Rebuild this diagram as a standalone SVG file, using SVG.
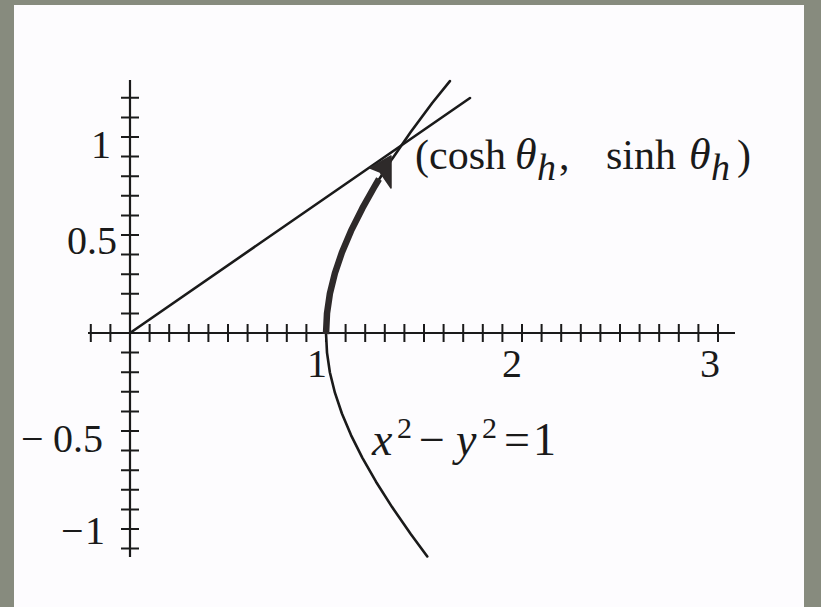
<svg xmlns="http://www.w3.org/2000/svg" width="821" height="607" viewBox="0 0 821 607">
<style>
.ax{stroke:#1a1a1a;stroke-width:2.2;fill:none}
.tk{stroke:#1a1a1a;stroke-width:2;fill:none}
.crv{stroke:#1a1a1a;stroke-width:2.6;fill:none;stroke-linejoin:round;stroke-linecap:round}
.thick{stroke:#2e2a2a;stroke-width:6.5;fill:none;stroke-linejoin:round}
.lbl{font-family:"Liberation Serif","Times New Roman",serif;font-size:40px;fill:#1a1a1a}
.it{font-style:italic}
</style>
<rect x="0" y="0" width="821" height="607" fill="#878b7e"/>
<rect x="14" y="5" width="790" height="602" fill="#fdfcfe"/>
<g id="axes">
<line class="ax" x1="88" y1="333" x2="735" y2="333"/>
<line class="ax" x1="130" y1="80" x2="130" y2="557"/>
<path class="tk" d="M90.8 324v18M110.4 324v18M149.6 324v18M169.2 324v18M188.8 324v18M208.4 324v18M228 324v18M247.6 324v18M267.2 324v18M286.8 324v18M306.4 324v18M326 324v18M345.6 324v18M365.2 324v18M384.8 324v18M404.4 324v18M424 324v18M443.6 324v18M463.2 324v18M482.8 324v18M502.4 324v18M522 324v18M541.6 324v18M561.2 324v18M580.8 324v18M600.4 324v18M620 324v18M639.6 324v18M659.2 324v18M678.8 324v18M698.4 324v18M718 324v18"/>
<path class="tk" d="M121 97.8h18M121 117.4h18M121 137h18M121 156.6h18M121 176.2h18M121 195.8h18M121 215.4h18M121 235h18M121 254.6h18M121 274.2h18M121 293.8h18M121 313.4h18M121 352.6h18M121 372.2h18M121 391.8h18M121 411.4h18M121 431h18M121 450.6h18M121 470.2h18M121 489.8h18M121 509.4h18M121 529h18M121 548.6h18"/>
</g>
<g id="tick-labels" class="lbl">
<text x="317" y="377" text-anchor="middle">1</text>
<text x="512" y="377" text-anchor="middle">2</text>
<text x="710" y="377" text-anchor="middle">3</text>
<text x="111" y="158" text-anchor="end">1</text>
<text x="117" y="254" text-anchor="end">0.5</text>
<text x="21" y="452">−<tspan x="53">0.5</tspan></text>
<text x="61" y="544">−<tspan x="85">1</tspan></text>
</g>
<g id="ray">
<line class="crv" x1="130" y1="333" x2="470" y2="98"/>
</g>
<g id="hyperbola">
<polyline class="crv" points="427.3,556.4 410.9,534.2 392.1,507.1 376,481.7 362.4,457.8 351,435.1 341.9,413.5 334.9,392.7 329.9,372.5 327,352.6 326,333 327,313.4 329.9,293.5 334.9,273.3 341.9,252.5 351,230.9 362.4,208.2 376,184.3 392.1,158.9 410.9,131.8 432.4,102.7 449.9,81.1"/>
</g>
<g id="arc-arrow">
<polyline class="thick" points="326,334 327,313.4 329.9,293.5 334.9,273.3 341.9,252.5 351,230.9 362.4,208.2 374,187.5 379,179"/>
<path d="M391 156 L370 168 L380 172 L391 188 Z" fill="#2e2a2a" stroke="#2e2a2a" stroke-width="1.5" stroke-linejoin="round"/>
</g>
<g id="point-label" class="lbl">
<text y="169" font-size="42"><tspan x="415">(cosh</tspan><tspan class="it" x="515" font-size="44">θ</tspan><tspan class="it" x="537" font-size="38" dy="11">h</tspan><tspan x="559" dy="-11">,</tspan><tspan x="606">sinh</tspan><tspan class="it" x="689" font-size="44">θ</tspan><tspan class="it" x="711" font-size="38" dy="11">h</tspan><tspan x="737" dy="-11">)</tspan></text>
</g>
<g id="curve-label" class="lbl">
<text y="455" font-size="46"><tspan class="it" x="372">x</tspan><tspan font-size="30" x="397" dy="-17">2</tspan><tspan x="419" dy="17">−</tspan><tspan class="it" x="456">y</tspan><tspan font-size="30" x="482" dy="-17">2</tspan><tspan x="504" dy="17">=</tspan><tspan x="533">1</tspan></text>
</g>
</svg>
